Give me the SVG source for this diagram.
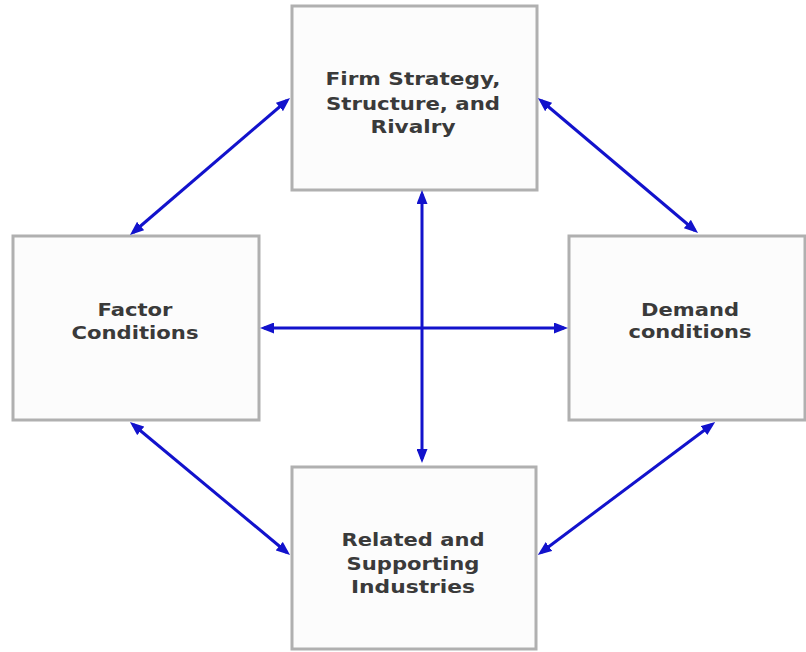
<svg xmlns="http://www.w3.org/2000/svg" width="806" height="652" viewBox="0 0 806 652">
  <style>
    .box { fill: #fcfcfc; stroke: #b0b0b0; stroke-width: 3; }
    .lbl { font-family: "DejaVu Sans", Verdana, sans-serif; font-size: 17.5px; font-weight: bold; fill: #3a3a3a; text-anchor: middle; }
    .conn { stroke: #1212cc; stroke-width: 3; fill: none; marker-start: url(#ah); marker-end: url(#ah); }
  </style>
  <defs>
    <marker id="ah" viewBox="0 0 14 11" refX="10" refY="5.5" markerWidth="14" markerHeight="11" markerUnits="userSpaceOnUse" orient="auto-start-reverse">
      <path d="M0,0 L14,5.5 L0,11 z" fill="#1212cc"/>
    </marker>
  </defs>
  <rect width="806" height="652" fill="#ffffff"/>

  <g id="firm">
    <rect class="box" x="292" y="6" width="245" height="184"/>
    <text class="lbl" x="413" y="85" textLength="175" lengthAdjust="spacingAndGlyphs">Firm Strategy,</text>
    <text class="lbl" x="413" y="110" textLength="174" lengthAdjust="spacingAndGlyphs">Structure, and</text>
    <text class="lbl" x="413" y="133" textLength="85" lengthAdjust="spacingAndGlyphs">Rivalry</text>
  </g>

  <g id="factor">
    <rect class="box" x="13" y="236" width="246" height="184"/>
    <text class="lbl" x="135" y="316" textLength="75" lengthAdjust="spacingAndGlyphs">Factor</text>
    <text class="lbl" x="135" y="339" textLength="127" lengthAdjust="spacingAndGlyphs">Conditions</text>
  </g>

  <g id="demand">
    <rect class="box" x="569" y="236" width="236" height="184"/>
    <text class="lbl" x="690" y="316" textLength="98" lengthAdjust="spacingAndGlyphs">Demand</text>
    <text class="lbl" x="690" y="338" textLength="123" lengthAdjust="spacingAndGlyphs">conditions</text>
  </g>

  <g id="related">
    <rect class="box" x="292" y="467" width="244" height="182"/>
    <text class="lbl" x="413" y="546" textLength="143" lengthAdjust="spacingAndGlyphs">Related and</text>
    <text class="lbl" x="413" y="570" textLength="133" lengthAdjust="spacingAndGlyphs">Supporting</text>
    <text class="lbl" x="413" y="593" textLength="124" lengthAdjust="spacingAndGlyphs">Industries</text>
  </g>

  <g id="connectors">
    <line class="conn" x1="133" y1="232.5" x2="287" y2="100.5"/>
    <line class="conn" x1="541" y1="100.5" x2="695" y2="230.5"/>
    <line class="conn" x1="264" y1="328" x2="564" y2="328"/>
    <line class="conn" x1="422" y1="194" x2="422" y2="459"/>
    <line class="conn" x1="133" y1="424.5" x2="287" y2="552.5"/>
    <line class="conn" x1="712" y1="424.5" x2="541" y2="552.5"/>
  </g>
</svg>
